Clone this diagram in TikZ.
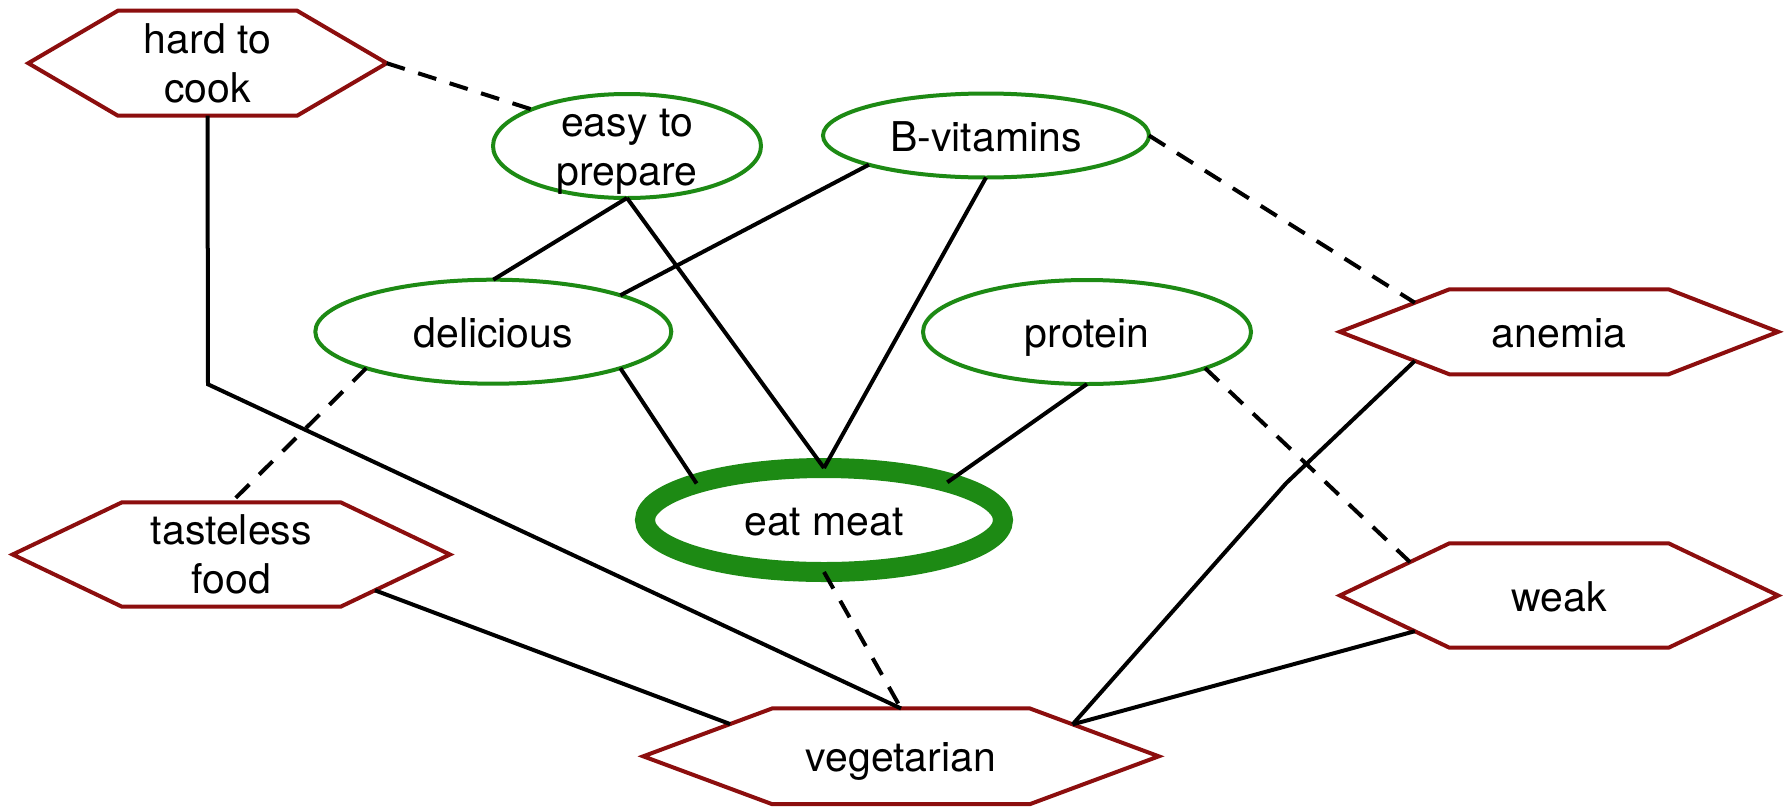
\documentclass[tikz,border=0pt]{standalone}
\usepackage{fontspec}
\setmainfont{TeX Gyre Heros}
\usetikzlibrary{calc,shapes.geometric}
\definecolor{nodegreen}{RGB}{29,138,20}
\definecolor{nodered}{RGB}{140,14,14}
\newcommand\drawhex[1]{%
  \coordinate (#1-w) at (#1.west);
  \coordinate (#1-nw) at ($(#1.north west)!.25!(#1.north east)$);
  \coordinate (#1-ne) at ($(#1.north west)!.75!(#1.north east)$);
  \coordinate (#1-e) at (#1.east);
  \coordinate (#1-se) at ($(#1.south west)!.75!(#1.south east)$);
  \coordinate (#1-sw) at ($(#1.south west)!.25!(#1.south east)$);
  \draw[hexline] (#1-w) -- (#1-nw) -- (#1-ne) -- (#1-e) -- (#1-se) -- (#1-sw) -- cycle;}
\begin{document}
\begin{tikzpicture}[x=1pt,y=-1pt,
  every node/.style={font=\fontsize{41}{49}\selectfont, inner sep=0pt, outer sep=0pt},
  goodnode/.style={ellipse, draw=nodegreen, line width=4pt},
  hexnode/.style={rectangle, align=center},
  hexline/.style={draw=nodered, line width=4pt},
  lbl/.style={align=center},
  one/.style={text height=31pt, text depth=0pt},
  link/.style={line width=4pt},
  neg/.style={link, dash pattern=on 19pt off 14pt}
]
\fill[white] (0,0) rectangle (1784,809);
\useasboundingbox (0,0) rectangle (1784,809);

% positive (green) nodes
\node[goodnode, minimum width=268pt, minimum height=104pt,
      label={[lbl, yshift=-6pt]center:easy to\\prepare}] (easy) at (627,146) {};
\node[goodnode, minimum width=326pt, minimum height=84pt,
      label={[one]center:B-vitamins}] (bvit) at (986,135.5) {};
\node[goodnode, minimum width=356pt, minimum height=104pt,
      label={[one]center:delicious}] (deli) at (493.3,331.7) {};
\node[goodnode, minimum width=328pt, minimum height=104pt,
      label={[one]center:protein}] (prot) at (1087,332) {};
\node[goodnode, line width=20pt, minimum width=358pt, minimum height=104pt,
      label={[one]center:eat meat}] (eat) at (824,520) {};

% negative (red) nodes
\node[hexnode, minimum width=358.4pt, minimum height=105pt] (hard) at (207.5,63.2) {hard to\\cook};
\drawhex{hard}
\node[hexnode, minimum width=437.3pt, minimum height=104.4pt, text depth=0pt] (tf) at (231.3,554.5) {tasteless\\food};
\drawhex{tf}
\node[hexnode, one, minimum width=515.5pt, minimum height=95.7pt] (veg) at (901,756.3) {vegetarian};
\drawhex{veg}
\node[hexnode, one, minimum width=438.3pt, minimum height=85pt] (an) at (1559,331.8) {anemia};
\drawhex{an}
\node[hexnode, one, minimum width=438.3pt, minimum height=104.4pt] (wk) at (1559,595.5) {weak};
\drawhex{wk}

% connector end points on hexagon borders
\coordinate (tf-r) at ($(tf-e)!0.686!(tf-se)$);
\coordinate (veg-l) at ($(veg-w)!0.674!(veg-nw)$);
\coordinate (veg-r) at ($(veg-e)!0.668!(veg-ne)$);
\coordinate (an-ul) at ($(an-w)!0.684!(an-nw)$);
\coordinate (an-ll) at ($(an-w)!0.684!(an-sw)$);
\coordinate (wk-ul) at ($(wk-w)!0.64!(wk-nw)$);
\coordinate (wk-ll) at ($(wk-w)!0.684!(wk-sw)$);
\coordinate (hbend) at (208,384.3);
\coordinate (abend) at (1286,483.3);

% solid connectors
\draw[link] (easy.south) -- (deli.north);
\draw[link] (easy.south) -- (eat.north);
\draw[link] (bvit.194) -- (deli.16);
\draw[link] (bvit.south) -- (eat.north);
\draw[link] (deli.344) -- (eat.164);
\draw[link] (prot.south) -- (eat.17);
\draw[link] (hard.south) -- (hbend) -- (veg.north);
\draw[link] (tf-r) -- (veg-l);
\draw[link] (an-ll) -- (abend) -- (veg-r);
\draw[link] (wk-ll) -- (veg-r);

% dashed connectors
\draw[neg] (hard-e) -- (easy.159);
\draw[neg] (bvit.east) -- (an-ul);
\draw[neg] (deli.196) -- (tf.north);
\draw[neg] (prot.343) -- (wk-ul);
\draw[neg] (eat.south) -- (veg.north);
\end{tikzpicture}
\end{document}
